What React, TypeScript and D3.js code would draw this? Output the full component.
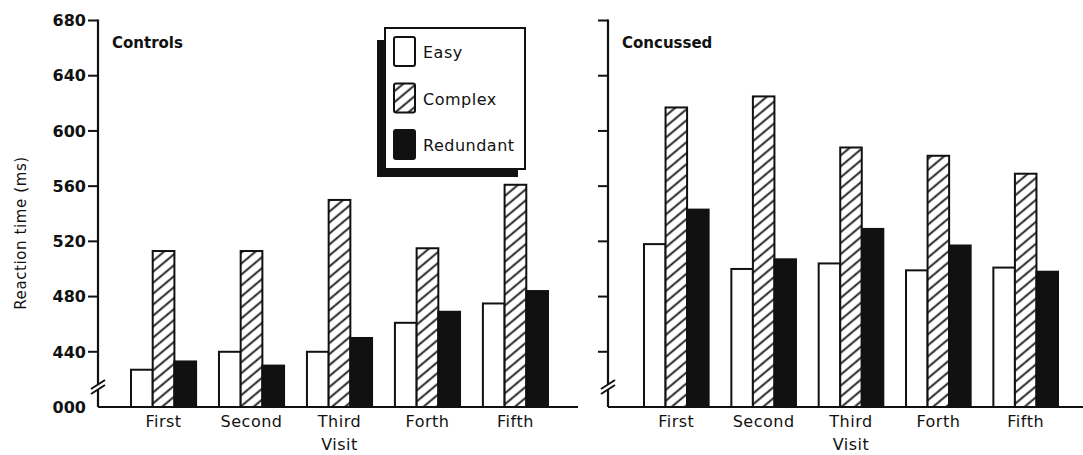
import React, { useEffect, useRef } from "react";
import * as d3 from "d3";

// Data (reaction time in ms)
const visits = ["First", "Second", "Third", "Forth", "Fifth"];
const conditions = ["Easy", "Complex", "Redundant"];

const controlsEasy = [427, 440, 440, 461, 475];
const controlsComplex = [513, 513, 550, 515, 561];
const controlsRedundant = [433, 430, 450, 469, 484];

const concussedEasy = [518, 500, 504, 499, 501];
const concussedComplex = [617, 625, 588, 582, 569];
const concussedRedundant = [543, 507, 529, 517, 498];

const yTicks = [400, 440, 480, 520, 560, 600, 640, 680];
const yTickLabels = ["000", "440", "480", "520", "560", "600", "640", "680"];

const FONT = "'DejaVu Sans', sans-serif";

export default function App() {
  const ref = useRef<SVGSVGElement>(null);

  useEffect(() => {
    document.body.style.margin = "0";
    const svg = d3.select(ref.current);
    svg.selectAll("*").remove();

    // hatch pattern for "Complex"
    const defs = svg.append("defs");
    defs
      .append("pattern")
      .attr("id", "hatch")
      .attr("patternUnits", "userSpaceOnUse")
      .attr("width", 10)
      .attr("height", 8.4)
      .attr("patternTransform", "rotate(-40)")
      .call(p => {
        p.append("rect").attr("width", 10).attr("height", 8.4).attr("fill", "#fff");
        p.append("line")
          .attr("x1", -1).attr("x2", 11)
          .attr("y1", 4.2).attr("y2", 4.2)
          .attr("stroke", "#111").attr("stroke-width", 1.8);
      });

    const fills: Record<string, string> = {
      Easy: "#fff",
      Complex: "url(#hatch)",
      Redundant: "#111",
    };

    const y = d3.scaleLinear().domain([400, 680]).range([407, 20.5]);
    const base = y(400);

    const panels = [
      {
        title: "Controls",
        axisX: 98,
        lineEnd: 578,
        band: [131, 548],
        labels: true,
        series: [controlsEasy, controlsComplex, controlsRedundant],
      },
      {
        title: "Concussed",
        axisX: 608,
        lineEnd: 1083,
        band: [644, 1058],
        labels: false,
        series: [concussedEasy, concussedComplex, concussedRedundant],
      },
    ];

    panels.forEach(panel => {
      const g = svg.append("g");
      const x0 = d3.scaleBand().domain(visits).range(panel.band as [number, number]).paddingInner(0.26).paddingOuter(0);
      const x1 = d3.scaleBand().domain(conditions).range([0, x0.bandwidth()]).padding(0);

      // bars
      visits.forEach((v, i) => {
        conditions.forEach((c, j) => {
          const val = panel.series[j][i];
          g.append("rect")
            .attr("x", x0(v)! + x1(c)!)
            .attr("y", y(val))
            .attr("width", x1.bandwidth())
            .attr("height", base - y(val))
            .attr("fill", fills[c])
            .attr("stroke", "#111")
            .attr("stroke-width", 2);
        });
      });

      // x tick labels
      g.selectAll(".xl")
        .data(visits)
        .join("text")
        .attr("x", d => x0(d)! + x0.bandwidth() / 2)
        .attr("y", 427)
        .attr("text-anchor", "middle")
        .style("font-family", FONT)
        .style("font-size", "16px")
        .style("letter-spacing", "0.5px")
        .attr("fill", "#111")
        .text(d => d);

      // x axis title
      g.append("text")
        .attr("x", (panel.band[0] + panel.band[1]) / 2)
        .attr("y", 450)
        .attr("text-anchor", "middle")
        .style("font-family", FONT)
        .style("font-size", "16px")
        .style("letter-spacing", "0.5px")
        .attr("fill", "#111")
        .text("Visit");

      // baseline
      g.append("line")
        .attr("x1", panel.axisX).attr("x2", panel.lineEnd)
        .attr("y1", base).attr("y2", base)
        .attr("stroke", "#111").attr("stroke-width", 2.2);

      // y axis with break
      const ax = panel.axisX;
      g.append("line")
        .attr("x1", ax).attr("x2", ax)
        .attr("y1", y(680) - 1).attr("y2", 384)
        .attr("stroke", "#111").attr("stroke-width", 2.2);
      g.append("line")
        .attr("x1", ax).attr("x2", ax)
        .attr("y1", 390).attr("y2", base)
        .attr("stroke", "#111").attr("stroke-width", 2.2);
      [0, 5].forEach(off => {
        g.append("line")
          .attr("x1", ax - 7).attr("y1", 389 + off)
          .attr("x2", ax + 7).attr("y2", 380 + off)
          .attr("stroke", "#111").attr("stroke-width", 2);
      });

      // y ticks
      g.selectAll(".yt")
        .data(yTicks.filter(t => t > 400))
        .join("line")
        .attr("x1", ax - 10).attr("x2", ax)
        .attr("y1", d => y(d)).attr("y2", d => y(d))
        .attr("stroke", "#111").attr("stroke-width", 2);

      if (panel.labels) {
        g.selectAll(".ytl")
          .data(yTicks)
          .join("text")
          .attr("x", ax - 12)
          .attr("y", d => y(d))
          .attr("dy", "0.36em")
          .attr("text-anchor", "end")
          .style("font-family", FONT)
          .style("font-size", "16px")
          .style("font-weight", "bold")
          .attr("fill", "#111")
          .text((d, i) => yTickLabels[i]);
      }

      // panel title
      g.append("text")
        .attr("x", ax + 14)
        .attr("y", 48)
        .style("font-family", FONT)
        .style("font-size", "15px")
        .style("font-weight", "bold")
        .attr("fill", "#111")
        .text(panel.title);
    });

    // y axis label
    svg.append("text")
      .attr("transform", "translate(26,233) rotate(-90)")
      .attr("text-anchor", "middle")
      .style("font-family", FONT)
      .style("font-size", "15px")
      .style("letter-spacing", "0.6px")
      .attr("fill", "#111")
      .text("Reaction time (ms)");

    // legend with drop shadow
    const lg = svg.append("g");
    lg.append("rect").attr("x", 377).attr("y", 40).attr("width", 141).attr("height", 137).attr("fill", "#111");
    lg.append("rect")
      .attr("x", 385).attr("y", 28).attr("width", 140).attr("height", 141)
      .attr("fill", "#fff").attr("stroke", "#111").attr("stroke-width", 2);
    conditions.forEach((c, i) => {
      const yy = 37 + i * 46.5;
      lg.append("rect")
        .attr("x", 394).attr("y", yy).attr("width", 21).attr("height", 29).attr("rx", 2)
        .attr("fill", fills[c]).attr("stroke", "#111").attr("stroke-width", 2);
      lg.append("text")
        .attr("x", 423).attr("y", yy + 21)
        .style("font-family", FONT)
        .style("font-size", "16px")
        .style("letter-spacing", "0.5px")
        .attr("fill", "#111")
        .text(c);
    });
  }, []);

  return (
    <svg
      ref={ref}
      width={1083}
      height={455}
      style={{ position: "absolute", left: 0, top: 0, background: "#fff" }}
    />
  );
}
